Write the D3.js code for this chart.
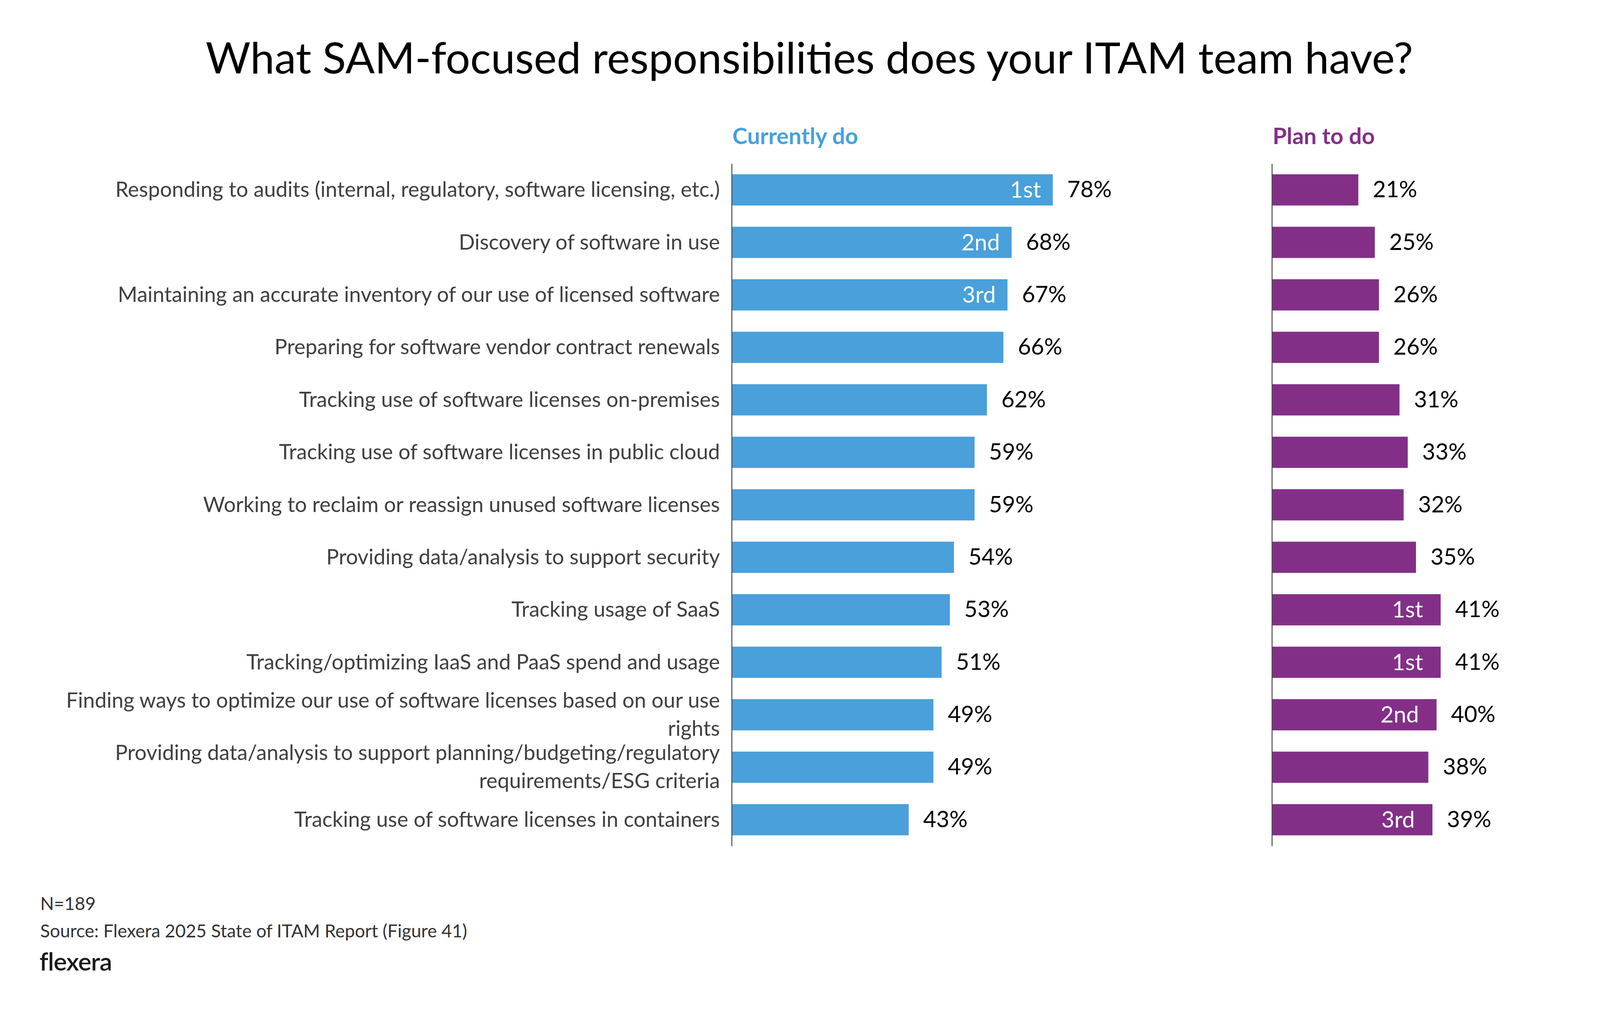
<!DOCTYPE html>
<html>
<head>
<meta charset="utf-8">
<script src="https://cdn.jsdelivr.net/npm/d3@7"></script>
<style>
  html, body { margin: 0; padding: 0; background: #ffffff; }
  svg { display: block; }
  text { font-family: Lato, "Noto Sans", sans-serif; }
</style>
</head>
<body>
<svg id="chart"></svg>
<script>
// ---------- data ----------
const title = "What SAM-focused responsibilities does your ITAM team have?";
const categories = [
  "Responding to audits (internal, regulatory, software licensing, etc.)",
  "Discovery of software in use",
  "Maintaining an accurate inventory of our use of licensed software",
  "Preparing for software vendor contract renewals",
  "Tracking use of software licenses on-premises",
  "Tracking use of software licenses in public cloud",
  "Working to reclaim or reassign unused software licenses",
  "Providing data/analysis to support security",
  "Tracking usage of SaaS",
  "Tracking/optimizing IaaS and PaaS spend and usage",
  "Finding ways to optimize our use of software licenses based on our use rights",
  "Providing data/analysis to support planning/budgeting/regulatory requirements/ESG criteria",
  "Tracking use of software licenses in containers"
];
const seriesNames = ["Currently do", "Plan to do"];
const currentlyDo = [78, 68, 67, 66, 62, 59, 59, 54, 53, 51, 49, 49, 43];
const planToDo    = [21, 25, 26, 26, 31, 33, 32, 35, 41, 41, 40, 38, 39];
const currentRanks = ["1st", "2nd", "3rd", "", "", "", "", "", "", "", "", "", ""];
const planRanks    = ["", "", "", "", "", "", "", "", "1st", "1st", "2nd", "", "3rd"];
const footnotes = ["N=189", "Source: Flexera 2025 State of ITAM Report (Figure 41)"];
const brand = "flexera";

// ---------- layout ----------
const W = 4139, H = 2586;
const svg = d3.select("#chart").attr("width", W).attr("height", H);

const colors = ["#49A0DA", "#832F88"];
const panelX = [1873, 3256];
const rankPad = [30, 45];

const y = d3.scaleBand()
  .domain(d3.range(categories.length))
  .range([419, 2166])
  .paddingInner(0.405)
  .paddingOuter(0.2025);

const x = d3.scaleLinear().domain([0, 100]).range([0, 1054]);

// title
svg.append("text")
  .attr("x", 2072).attr("y", 188)
  .attr("text-anchor", "middle")
  .attr("font-size", 111)
  .attr("fill", "#000")
  .text(title);

// category labels with wrapping
const labelG = svg.append("g");
const maxLabelW = 1720;
categories.forEach((c, i) => {
  const t = labelG.append("text")
    .attr("x", panelX[0] - 30)
    .attr("text-anchor", "end")
    .attr("font-size", 54)
    .attr("fill", "#404040");
  const words = c.split(" ");
  let lines = [], cur = [];
  const probe = t.append("tspan");
  words.forEach(w => {
    const test = cur.concat([w]).join(" ");
    probe.text(test);
    if (probe.node().getComputedTextLength() > maxLabelW && cur.length) {
      lines.push(cur.join(" "));
      cur = [w];
    } else {
      cur.push(w);
    }
  });
  lines.push(cur.join(" "));
  probe.remove();
  const cy = y(i) + y.bandwidth() / 2;
  const lh = 72;
  lines.forEach((ln, k) => {
    t.append("tspan")
      .attr("x", panelX[0] - 30)
      .attr("y", cy + 18 + (k - (lines.length - 1) / 2) * lh)
      .text(ln);
  });
});

// panels
const panels = [
  { values: currentlyDo, ranks: currentRanks },
  { values: planToDo, ranks: planRanks }
];

panels.forEach((p, pi) => {
  const g = svg.append("g").attr("transform", `translate(${panelX[pi]},0)`);

  g.append("text")
    .attr("x", 2).attr("y", 369)
    .attr("font-size", 58)
    .attr("font-weight", 700)
    .attr("fill", colors[pi])
    .text(seriesNames[pi]);

  g.selectAll("rect.bar").data(p.values).join("rect")
    .attr("class", "bar")
    .attr("x", 0)
    .attr("y", (d, i) => y(i))
    .attr("width", d => x(d))
    .attr("height", y.bandwidth())
    .attr("fill", colors[pi]);

  g.selectAll("text.val").data(p.values).join("text")
    .attr("class", "val")
    .attr("x", d => x(d) + 37)
    .attr("y", (d, i) => y(i) + y.bandwidth() / 2 + 19)
    .attr("font-size", 58)
    .attr("fill", "#000")
    .text(d => d + "%");

  g.selectAll("text.rank").data(p.values).join("text")
    .attr("class", "rank")
    .attr("x", d => x(d) - rankPad[pi])
    .attr("y", (d, i) => y(i) + y.bandwidth() / 2 + 20)
    .attr("text-anchor", "end")
    .attr("font-size", 58)
    .attr("fill", "#fff")
    .text((d, i) => p.ranks[i]);

  const axis = d3.axisLeft(y).tickSize(0).tickFormat("");
  const ag = g.append("g").call(axis);
  ag.select(".domain").attr("stroke", "#4a4a55").attr("stroke-width", 2.5);
});

// footer
svg.append("text")
  .attr("x", 103).attr("y", 2330)
  .attr("font-size", 46).attr("fill", "#333")
  .text(footnotes[0]);
svg.append("text")
  .attr("x", 103).attr("y", 2400)
  .attr("font-size", 46).attr("fill", "#333")
  .text(footnotes[1]);
svg.append("text")
  .attr("x", 101).attr("y", 2485)
  .attr("font-size", 64).attr("font-weight", 600)
  .attr("letter-spacing", -1)
  .attr("fill", "#1a1a1a")
  .text(brand);
</script>
</body>
</html>
